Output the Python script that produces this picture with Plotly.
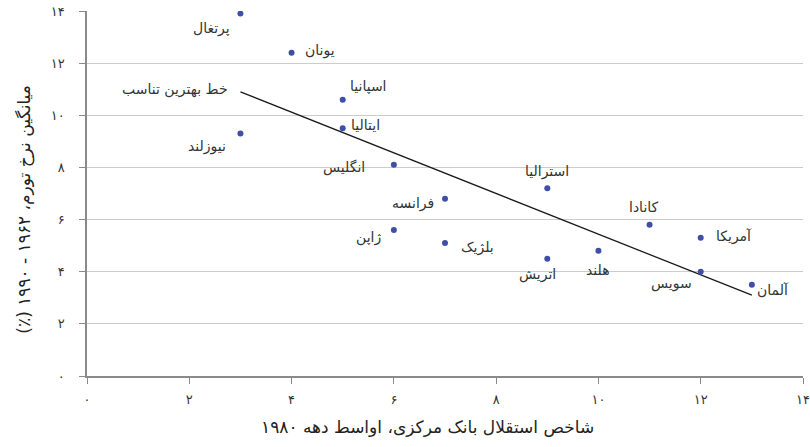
import plotly.graph_objects as go

# central bank independence vs average inflation
countries = ["پرتغال", "یونان", "اسپانیا", "ایتالیا", "نیوزلند", "انگلیس", "فرانسه",
             "استرالیا", "ژاپن", "بلژیک", "اتریش", "هلند", "کانادا", "آمریکا", "سویس", "آلمان"]
independence = [3, 4, 5, 5, 3, 6, 7, 9, 6, 7, 9, 10, 11, 12, 12, 13]
inflation = [13.9, 12.4, 10.6, 9.5, 9.3, 8.1, 6.8, 7.2, 5.6, 5.1, 4.5, 4.8, 5.8, 5.3, 4.0, 3.5]

# label offsets in px (dx, dy) relative to each point
label_dx = [-29, 28, 26, 23, -33, -50, -32, 0, -25, 32, -10, 0, -6, 33, -29, 21]
label_dy = [-15, 2, 13, 3, -13, -3, -5, 17, -7, -4, -16, -19, 18, 1, -12, -5]

fit_x = [3, 13]
fit_y = [10.9, 3.1]

tick_vals = [0, 2, 4, 6, 8, 10, 12, 14]
tick_text = ["۰", "۲", "۴", "۶", "۸", "۱۰", "۱۲", "۱۴"]

FONT = "DejaVu Sans"
RLM = "\u200f"

fig = go.Figure()

fig.add_trace(go.Scatter(
    x=fit_x, y=fit_y, mode="lines",
    line=dict(color="#1a1a1a", width=1.3),
    hoverinfo="skip",
))

fig.add_trace(go.Scatter(
    x=independence, y=inflation, mode="markers",
    marker=dict(color="#3f4fa6", size=6),
    text=countries,
))

for name, xv, yv, dx, dy in zip(countries, independence, inflation, label_dx, label_dy):
    fig.add_annotation(
        x=xv, y=yv, text=name, showarrow=False,
        xshift=dx, yshift=dy,
        font=dict(family=FONT, size=14, color="#333333"),
    )

fig.add_annotation(
    x=fit_x[0], y=fit_y[0], text="خط بهترین تناسب", showarrow=False,
    xanchor="right", xshift=-10, yshift=2,
    font=dict(family=FONT, size=14, color="#333333"),
)

# axis titles
fig.add_annotation(
    xref="paper", yref="paper", x=0.4755, y=-0.14,
    xanchor="center", yanchor="middle",
    text=RLM + "شاخص استقلال بانک مرکزی، اواسط دهه ۱۹۸۰" + RLM,
    showarrow=False, font=dict(family=FONT, size=17, color="#222222"),
)
fig.add_annotation(
    xref="paper", yref="paper", x=-0.087, y=0.455, textangle=-90,
    xanchor="center", yanchor="middle",
    text=RLM + "میانگین نرخ تورم، ۱۹۶۲ - ۱۹۹۰ (٪)" + RLM,
    showarrow=False, font=dict(family=FONT, size=17, color="#222222"),
)

fig.update_layout(
    width=810, height=447,
    margin=dict(l=87, r=7, t=11, b=71, autoexpand=False),
    paper_bgcolor="white", plot_bgcolor="white",
    showlegend=False,
    font=dict(family=FONT, color="#333333"),
    xaxis=dict(
        range=[0, 14], tickvals=tick_vals, ticktext=tick_text,
        showgrid=False, zeroline=False, automargin=False,
        showline=True, linecolor="#8a8a8a", linewidth=1.5,
        ticks="outside", ticklen=6, tickcolor="#8a8a8a",
        tickfont=dict(size=13, color="#333333"), ticklabelstandoff=5,
    ),
    yaxis=dict(
        range=[0, 14], tickvals=tick_vals, ticktext=tick_text,
        showgrid=True, gridcolor="#cccccc", gridwidth=1, zeroline=False, automargin=False,
        showline=True, linecolor="#8a8a8a", linewidth=1.5,
        ticks="outside", ticklen=6, tickcolor="#8a8a8a",
        tickfont=dict(size=13, color="#333333"), ticklabelstandoff=12,
    ),
)

fig.write_html("out.html", config={"displayModeBar": False},
               post_script="document.body.style.margin='0px';")
